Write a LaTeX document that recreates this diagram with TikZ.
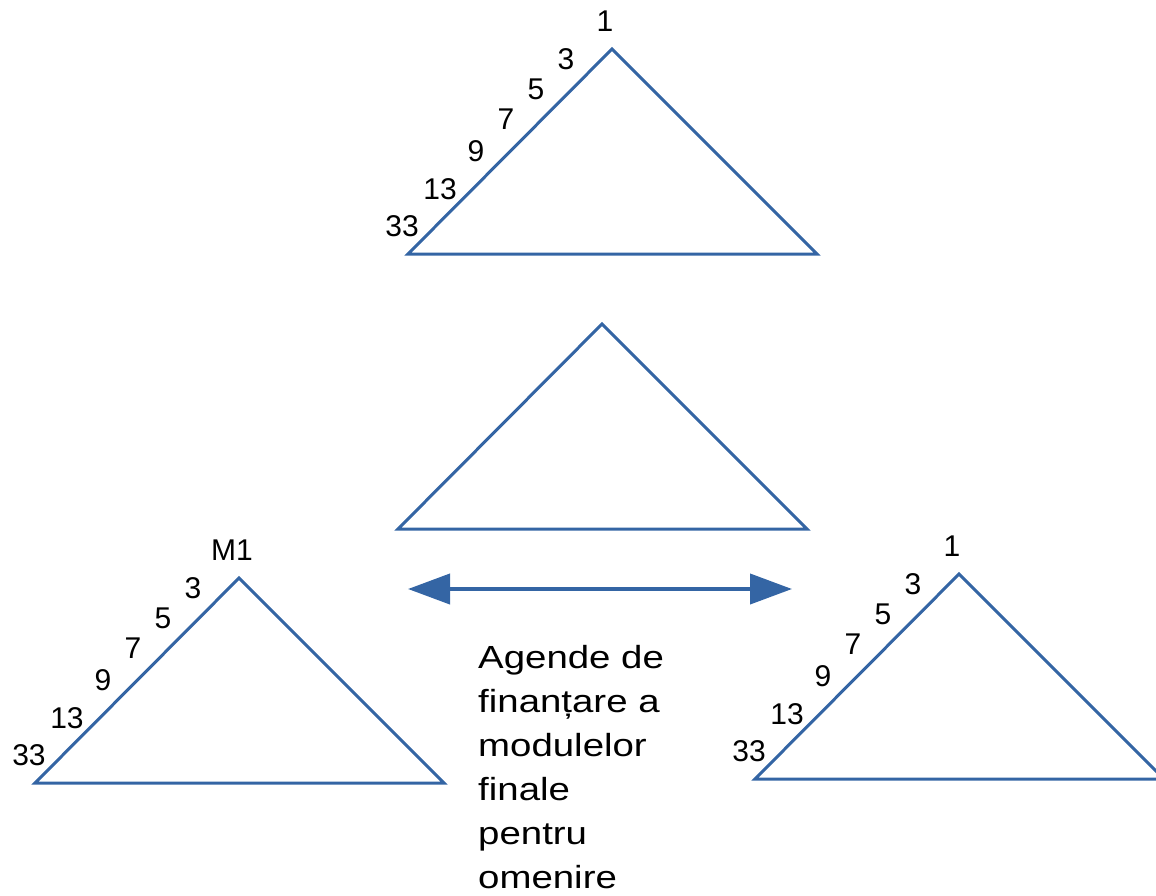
\documentclass[tikz,border=0pt]{standalone}
\usepackage{fontspec}
\setmainfont{Liberation Sans}
\newfontfamily\widefont[FakeStretch=1.2]{Liberation Sans}
\usetikzlibrary{arrows.meta}
\definecolor{tblue}{RGB}{52,101,164}
\tikzset{
  tri/.style={draw=tblue, line width=3pt},
  lab/.style={font=\fontsize{30}{36}\selectfont, inner sep=0pt},
  labtri/.pic={
    \draw[tri] (0,0) -- (-204,205) -- (205,205) -- cycle;
    \node[lab] (-top) at (-7,-28) {\tikzpictext};
    \node[lab] (-l3) at (-46,10) {3};
    \node[lab] (-l5) at (-76,40) {5};
    \node[lab] (-l7) at (-106,70) {7};
    \node[lab] (-l9) at (-136,102) {9};
    \node[lab] (-l13) at (-172,140) {13};
    \node[lab] (-l33) at (-210,177) {33};
  }
}
\begin{document}
\begin{tikzpicture}[x=1pt,y=-1pt]
\useasboundingbox (0,0) rectangle (1156,896);
\pic (top) at (612,49) [pic text=1] {labtri};
\draw[tri] (602,324) -- (398,529) -- (807,529) -- cycle;
\pic (left) at (239,578) [pic text=M1] {labtri};
\pic (right) at (959,574) [pic text=1] {labtri};
\coordinate (aL) at (408,589);
\coordinate (aR) at (792,589);
\draw[tblue, line width=4pt, {Triangle[length=42pt,width=30pt]}-{Triangle[length=42pt,width=30pt]}] (aL) -- (aR);
\node[font=\widefont\fontsize{32}{44}\selectfont, align=left, anchor=base west, inner sep=0pt] (txt) at (478,888)
  {Agende de\\finanțare a\\modulelor\\finale\\pentru\\omenire};
\end{tikzpicture}
\end{document}
